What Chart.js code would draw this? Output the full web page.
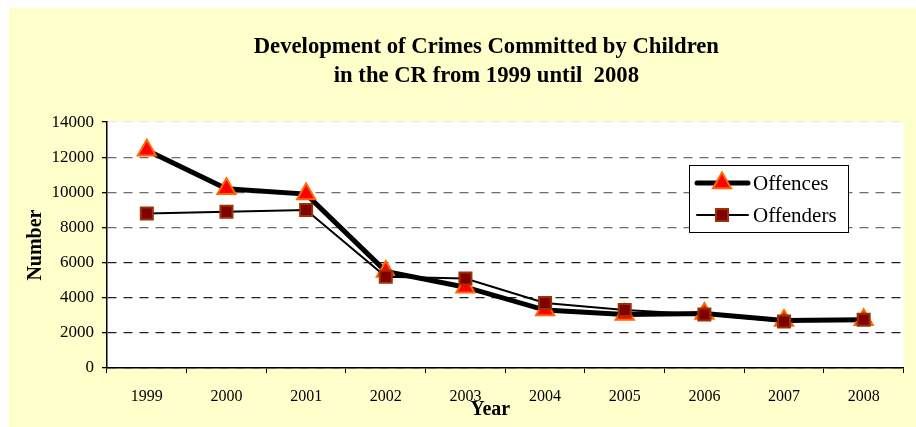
<!DOCTYPE html>
<html>
<head>
<meta charset="utf-8">
<style>
  html, body { margin: 0; padding: 0; background: #fff; }
  #wrap { width: 916px; height: 427px; position: relative; }
</style>
<script src="https://cdn.jsdelivr.net/npm/chart.js@4/dist/chart.umd.min.js"></script>
</head>
<body>
<div id="wrap"><canvas id="myChart" width="916" height="427"></canvas></div>
<script>
  var years = ["1999", "2000", "2001", "2002", "2003", "2004", "2005", "2006", "2007", "2008"];
  var offences = [12400, 10200, 9900, 5500, 4600, 3300, 3050, 3100, 2700, 2750];
  var offenders = [8800, 8900, 9000, 5200, 5100, 3700, 3300, 3050, 2650, 2750];
  var yTicks = [0, 2000, 4000, 6000, 8000, 10000, 12000, 14000];

  var serif = "'Liberation Serif', 'Times New Roman', serif";

  // yellow panel + white plot area
  var bgPlugin = {
    id: "bg",
    beforeDraw: function (chart) {
      var ctx = chart.ctx;
      var a = chart.chartArea;
      ctx.save();
      ctx.fillStyle = "#ffffff";
      ctx.fillRect(0, 0, chart.width, chart.height);
      ctx.fillStyle = "#ffffcc";
      ctx.fillRect(9, 8, chart.width - 9, chart.height - 8);
      ctx.fillStyle = "#ffffff";
      ctx.fillRect(a.left, a.top, a.right - a.left, a.bottom - a.top);
      ctx.restore();
    },
  };

  // legend box sitting inside the plot
  var legendPlugin = {
    id: "boxLegend",
    afterDraw: function (chart) {
      var ctx = chart.ctx;
      var x = 689, y = 165, w = 159, h = 67;
      ctx.save();
      ctx.fillStyle = "#ffffff";
      ctx.fillRect(x, y, w, h);
      ctx.strokeStyle = "#000";
      ctx.lineWidth = 1;
      ctx.strokeRect(x + 0.5, y + 0.5, w, h);

      chart.data.datasets.forEach(function (ds, i) {
        var ly = y + 18 + i * 32;
        ctx.beginPath();
        ctx.strokeStyle = ds.borderColor;
        ctx.lineWidth = ds.borderWidth;
        ctx.lineCap = "round";
        ctx.moveTo(x + 8, ly);
        ctx.lineTo(x + 59, ly);
        ctx.stroke();
        ctx.fillStyle = ds.pointBackgroundColor;
        ctx.strokeStyle = ds.pointBorderColor;
        ctx.lineWidth = ds.pointBorderWidth;
        Chart.helpers.drawPoint(ctx, { pointStyle: ds.pointStyle, radius: ds.pointRadius, borderWidth: ds.pointBorderWidth }, x + 33, ly);
        ctx.fillStyle = "#000";
        ctx.font = "21px " + serif;
        ctx.textBaseline = "middle";
        ctx.fillText(ds.label, x + 64, ly + 1);
      });
      ctx.restore();
    },
  };

  var ctx = document.getElementById("myChart").getContext("2d");
  var chart = new Chart(ctx, {
    type: "line",
    data: {
      labels: years,
      datasets: [
        {
          label: "Offences",
          data: offences,
          borderColor: "#000000",
          borderWidth: 5,
          pointStyle: "triangle",
          pointRadius: 10.5,
          pointBackgroundColor: "#ff0000",
          pointBorderColor: "#ff6600",
          pointBorderWidth: 2,
          tension: 0,
          order: 1,
        },
        {
          label: "Offenders",
          data: offenders,
          borderColor: "#000000",
          borderWidth: 2,
          pointStyle: "rect",
          pointRadius: 8.5,
          pointBackgroundColor: "#800000",
          pointBorderColor: "#993300",
          pointBorderWidth: 2,
          tension: 0,
          order: 0,
        },
      ],
    },
    options: {
      responsive: false,
      animation: false,
      layout: { padding: { left: 20, right: 3, top: 0, bottom: 5 } },
      plugins: {
        legend: { display: false },
        tooltip: { enabled: false },
        title: {
          display: true,
          // leading spaces nudge the centred title to the right, as in the original
          text: ["       Development of Crimes Committed by Children", "       in the CR from 1999 until  2008"],
          color: "#000",
          font: { family: serif, size: 22.7, weight: "bold", lineHeight: 1.28 },
          padding: { top: 33, bottom: 31 },
        },
      },
      scales: {
        x: {
          type: "category",
          offset: true,
          grid: {
            offset: true,
            drawOnChartArea: false,
            drawTicks: true,
            tickLength: 5,
            color: "#000",
          },
          border: { display: true, color: "#000", width: 1.5 },
          ticks: {
            color: "#000",
            font: { family: serif, size: 16 },
            padding: 14,
            maxRotation: 0,
          },
          title: {
            display: true,
            text: "Year      ",
            color: "#000",
            font: { family: serif, size: 20, weight: "bold" },
            padding: { top: 0, bottom: 0 },
          },
          afterFit: function (scale) {
            scale.height = 54;
          },
        },
        y: {
          min: 0,
          max: 14000,
          afterBuildTicks: function (scale) {
            scale.ticks = yTicks.map(function (v) { return { value: v }; });
          },
          grid: {
            color: function (c) {
              if (c.tick && c.tick.value === 14000) return "#e8e8e8";
              if (c.tick && c.tick.value >= 8000) return "#6e6e6e";
              return "#222";
            },
            borderDash: [9, 7],
            tickColor: "#000",
            tickLength: 5,
            lineWidth: 1.3,
          },
          border: { display: true, color: "#000", width: 1.5, dash: [9, 7] },
          ticks: {
            color: "#000",
            font: { family: serif, size: 17 },
            padding: 8,
            callback: function (v) { return String(v); },
          },
          title: {
            display: true,
            text: "Number",
            color: "#000",
            font: { family: serif, size: 20, weight: "bold" },
            padding: { top: 4, bottom: 0 },
          },
          afterFit: function (scale) {
            scale.width = 87;
          },
        },
      },
    },
    plugins: [bgPlugin, legendPlugin],
  });
</script>
</body>
</html>
